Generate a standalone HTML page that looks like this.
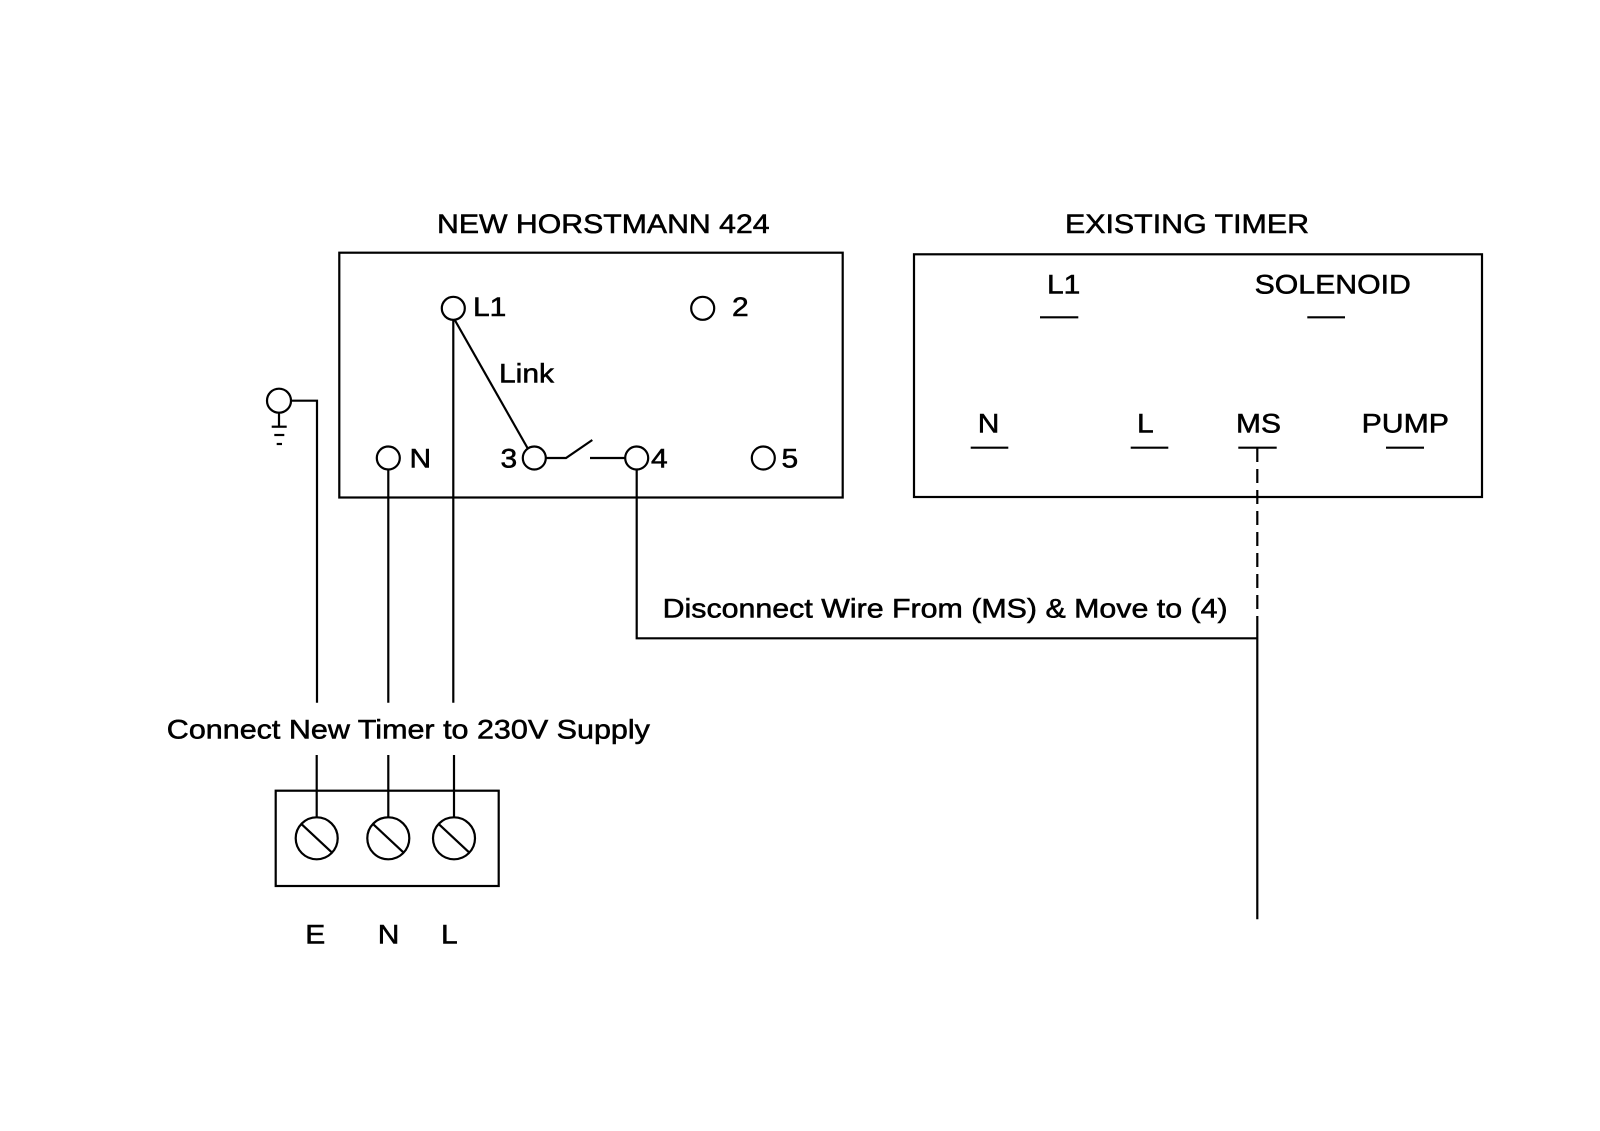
<!DOCTYPE html>
<html>
<head>
<meta charset="utf-8">
<style>
  html, body { margin:0; padding:0; background:#fff; }
  svg { display:block; }
  text { font-family: "Liberation Sans", Arial, sans-serif; font-size:27px; fill:#000; stroke:#000; stroke-width:0.55px; }
</style>
</head>
<body>
<svg width="1600" height="1131" viewBox="0 0 1600 1131" xmlns="http://www.w3.org/2000/svg">
  <rect x="0" y="0" width="1600" height="1131" fill="#fff"/>

  <g fill="none" stroke="#000" stroke-width="2.2">
    <!-- Horstmann box -->
    <rect x="339.3" y="252.7" width="503.4" height="244.8"/>
    <!-- Existing timer box -->
    <rect x="914" y="254.3" width="568" height="242.7"/>

    <!-- Horstmann terminals -->
    <circle cx="453.3" cy="308.3" r="11.5"/>
    <circle cx="702.7" cy="308.3" r="11.5"/>
    <circle cx="388.3" cy="458" r="11.5"/>
    <circle cx="534.3" cy="458" r="11.5"/>
    <circle cx="636.7" cy="458" r="11.5"/>
    <circle cx="763.3" cy="458" r="11.5"/>

    <!-- Link -->
    <line x1="454.5" y1="319.5" x2="527.5" y2="448"/>
    <!-- Switch -->
    <polyline points="545.8,458 566,458 592.3,440"/>
    <line x1="590" y1="458" x2="625.2" y2="458"/>

    <!-- Earth symbol -->
    <circle cx="279" cy="400.7" r="12"/>
    <line x1="279" y1="412.7" x2="279" y2="426.7"/>
    <line x1="271.7" y1="426.7" x2="286.7" y2="426.7"/>
    <line x1="274.3" y1="435" x2="284.3" y2="435"/>
    <line x1="276.7" y1="444" x2="282" y2="444"/>
    <polyline points="291,400.7 317,400.7 317,702.7"/>

    <!-- Wires down to supply -->
    <line x1="388.3" y1="469.5" x2="388.3" y2="702.7"/>
    <line x1="453.3" y1="319.8" x2="453.3" y2="702.7"/>

    <!-- Terminal 4 wire -->
    <polyline points="636.7,469.5 636.7,638.3 1257.3,638.3"/>
    <line x1="1257.3" y1="630" x2="1257.3" y2="919.3"/>
    <line x1="1257.3" y1="448" x2="1257.3" y2="630" stroke-dasharray="14 7"/>

    <!-- Existing timer underlines -->
    <line x1="1040" y1="317.3" x2="1078.3" y2="317.3"/>
    <line x1="1307.3" y1="317.3" x2="1345" y2="317.3"/>
    <line x1="970.7" y1="447.7" x2="1008.3" y2="447.7"/>
    <line x1="1130.7" y1="447.7" x2="1168.3" y2="447.7"/>
    <line x1="1238.3" y1="447.7" x2="1276.7" y2="447.7"/>
    <line x1="1386" y1="447.7" x2="1424" y2="447.7"/>

    <!-- Supply terminal block -->
    <rect x="275.7" y="790.7" width="223" height="95.3"/>
    <line x1="316.7" y1="755" x2="316.7" y2="817.3"/>
    <line x1="388.3" y1="755" x2="388.3" y2="817.3"/>
    <line x1="454" y1="755" x2="454" y2="817.3"/>
    <circle cx="316.7" cy="838.3" r="21"/>
    <circle cx="388.3" cy="838.3" r="21"/>
    <circle cx="454" cy="838.3" r="21"/>
    <line x1="301.7" y1="824.3" x2="331.7" y2="852.3"/>
    <line x1="373.3" y1="824.3" x2="403.3" y2="852.3"/>
    <line x1="439" y1="824.3" x2="469" y2="852.3"/>
  </g>

  <!-- Labels -->
  <text transform="translate(437,233) scale(1.12,1)">NEW HORSTMANN 424</text>
  <text transform="translate(1065,233) scale(1.125,1)">EXISTING TIMER</text>

  <text transform="translate(473,316) scale(1.11,1)">L1</text>
  <text transform="translate(732,316) scale(1.11,1)">2</text>
  <text transform="translate(499,382.7) scale(1.11,1)">Link</text>
  <text transform="translate(409.5,467.5) scale(1.11,1)">N</text>
  <text transform="translate(500.5,467.5) scale(1.11,1)">3</text>
  <text transform="translate(651,467.5) scale(1.11,1)">4</text>
  <text transform="translate(781.5,467.5) scale(1.11,1)">5</text>

  <text transform="translate(1047,293.3) scale(1.11,1)">L1</text>
  <text transform="translate(1254.6,293.3) scale(1.12,1)">SOLENOID</text>
  <text transform="translate(977.7,432.3) scale(1.11,1)">N</text>
  <text transform="translate(1137,432.3) scale(1.11,1)">L</text>
  <text transform="translate(1236,432.3) scale(1.11,1)">MS</text>
  <text transform="translate(1361.6,432.3) scale(1.12,1)">PUMP</text>

  <text transform="translate(662.6,617.7) scale(1.125,1)">Disconnect Wire From (MS) &amp; Move to (4)</text>
  <text transform="translate(166.8,738.5) scale(1.13,1)">Connect New Timer to 230V Supply</text>

  <text transform="translate(305.3,943.3) scale(1.11,1)">E</text>
  <text transform="translate(377.7,943.3) scale(1.11,1)">N</text>
  <text transform="translate(441,943.3) scale(1.11,1)">L</text>
</svg>
</body>
</html>
